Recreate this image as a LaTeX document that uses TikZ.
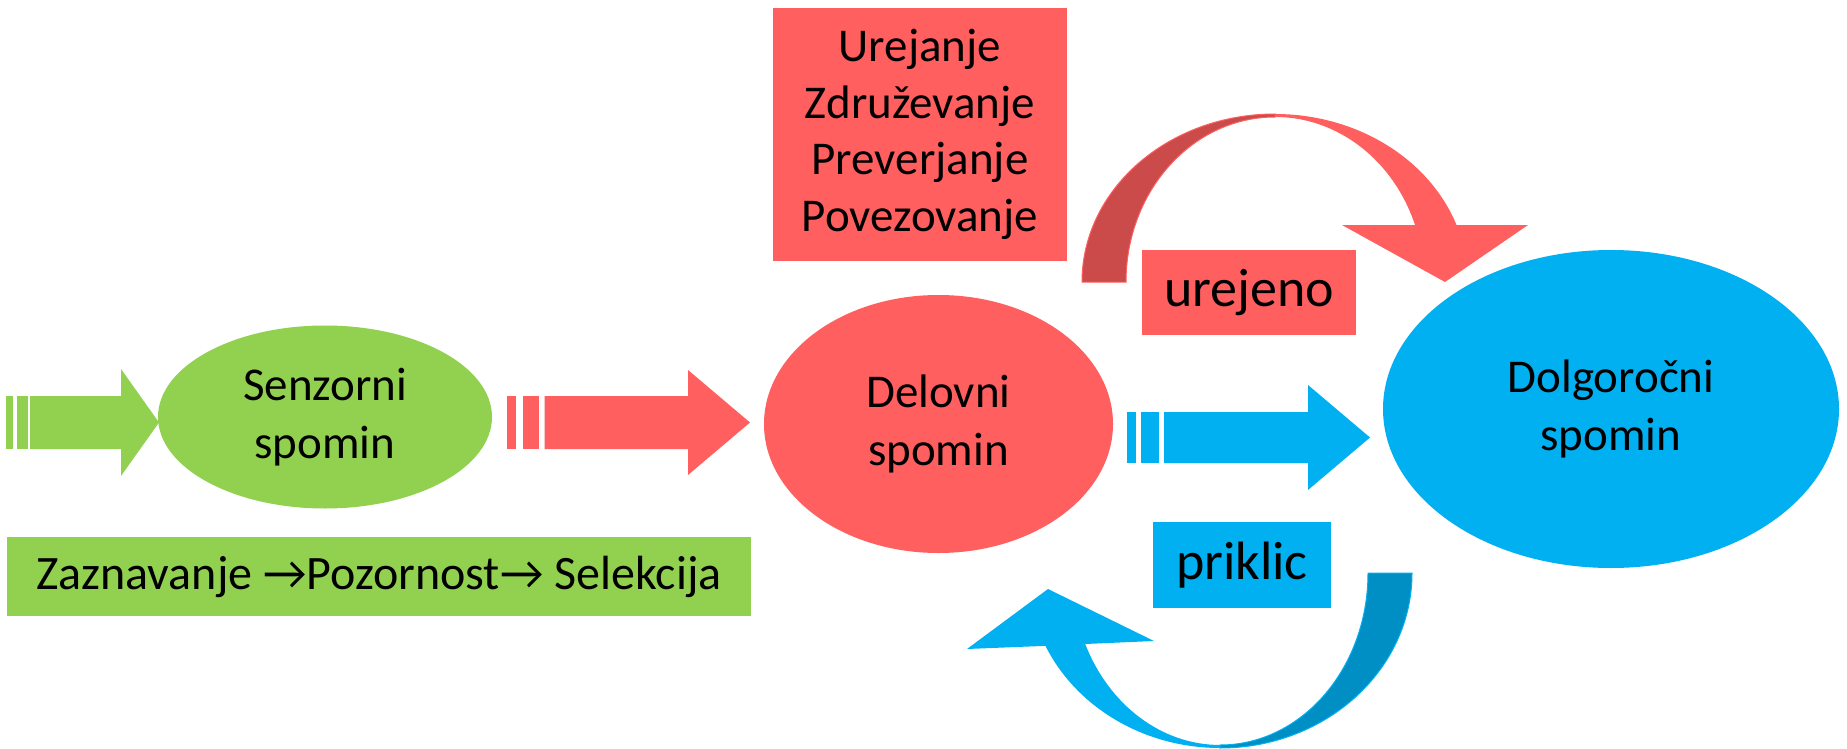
\documentclass[tikz,border=0pt]{standalone}
\usepackage{fontspec}
\setmainfont{Carlito}
\usetikzlibrary{shapes.geometric}
\definecolor{cgreen}{HTML}{92D050}
\definecolor{cred}{HTML}{FF5F5F}
\definecolor{cdred}{HTML}{CB4A4A}
\definecolor{cblue}{HTML}{00B0F0}
\definecolor{cdblue}{HTML}{008FC4}
\begin{document}
\begin{tikzpicture}[x=0.5pt,y=-0.5pt,
  memnode/.style={ellipse, inner sep=0pt, align=center, font=\fontsize{23.5pt}{29pt}\selectfont},
  lbl/.style={rectangle, inner sep=0pt, align=center},
  bigtxt/.style={font=\fontsize{27pt}{32pt}\selectfont},
]
\useasboundingbox (0,0) rectangle (1847,749);
\fill[white] (0,0) rectangle (1847,749);

% memory ellipses
\node[memnode, fill=cgreen, minimum width=167pt, minimum height=91.5pt] (sens) at (325,417) {Senzorni\\spomin};
\node[memnode, fill=cred, minimum width=174.5pt, minimum height=129pt] (delo) at (938.5,424) {Delovni\\spomin};
\node[memnode, fill=cblue, minimum width=228pt, minimum height=159pt] (dolg) at (1611,409) {Dolgoročni\\spomin};

% labels
\node[lbl, fill=cred, minimum width=147pt, minimum height=126.5pt, font=\fontsize{23.5pt}{28.35pt}\selectfont] (proc) at (920,134.5) {Urejanje\\Združevanje\\Preverjanje\\Povezovanje};
\node[lbl, bigtxt, fill=cred, minimum width=107pt, minimum height=42.5pt] (urej) at (1249,292.5) {urejeno};
\node[lbl, bigtxt, fill=cblue, minimum width=89pt, minimum height=43pt] (prik) at (1242,565) {priklic};
\node[lbl, fill=cgreen, minimum width=372pt, minimum height=39.5pt, font=\fontsize{24pt}{29pt}\selectfont] (sel) at (379,576.5) {Zaznavanje →Pozornost→ Selekcija};

% striped block arrows
\coordinate (gtip) at (159,422.5);
\fill[cgreen] (6.4,396) rectangle (13,449);
\fill[cgreen] (17,396) rectangle (27.5,449);
\fill[cgreen] (30,396) -- (121,396) -- (121,369) -- (gtip) -- (121,476) -- (121,449) -- (30,449) -- cycle;

\coordinate (rtip) at (750,422.5);
\fill[cred] (506.5,396) rectangle (516,449);
\fill[cred] (522.5,396) rectangle (538.6,449);
\fill[cred] (544.6,396) -- (688,396) -- (688,370) -- (rtip) -- (688,475) -- (688,449) -- (544.6,449) -- cycle;

\coordinate (btip) at (1370,437.5);
\fill[cblue] (1127,412) rectangle (1136,463);
\fill[cblue] (1141,412) rectangle (1159,463);
\fill[cblue] (1164,412) -- (1308,412) -- (1308,385) -- (btip) -- (1308,490) -- (1308,463) -- (1164,463) -- cycle;

% curved red arrow (Delovni -> Dolgorocni)
\fill[cdred, draw=cred, line width=0.5pt] (1082,282) arc[start angle=180, end angle=90, x radius=96.5pt, y radius=84pt] -- (1275,117) arc[start angle=90, end angle=180, x radius=74.5pt, y radius=82.5pt] -- cycle;
\fill[cred] (1275,114) arc[start angle=90, end angle=19.8, x radius=96.5pt, y radius=84pt] -- (1528,225) -- (1445,282) -- (1342,225) -- (1415,225) arc[start angle=20.2, end angle=90, x radius=74.5pt, y radius=82.5pt] -- cycle;

% curved blue arrow (Dolgorocni -> Delovni)
\fill[cdblue, draw=cblue, line width=0.5pt] (1412,573) arc[start angle=0, end angle=-90, x radius=96pt, y radius=87.5pt] -- (1220,745) arc[start angle=-90, end angle=0, x radius=74pt, y radius=86pt] -- cycle;
\fill[cblue] (1220,748) arc[start angle=270, end angle=204.6, x radius=96pt, y radius=87.5pt] -- (967,649) -- (1048,589) -- (1154,641) -- (1085.2,644) arc[start angle=204.4, end angle=270, x radius=74pt, y radius=86pt] -- cycle;
\end{tikzpicture}
\end{document}
